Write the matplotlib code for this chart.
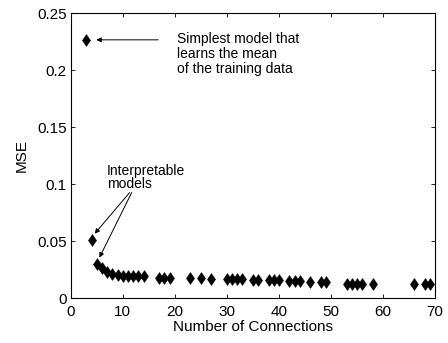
import matplotlib
matplotlib.use('Agg')
import matplotlib.pyplot as plt
from matplotlib.path import Path

plt.rcParams['font.family'] = ['Liberation Sans', 'DejaVu Sans']

# connections vs. test error for each trained model
connections = [3, 4, 5, 6, 7, 8, 9, 10, 11, 12, 13, 14,
               17, 18, 19, 23, 25, 27, 30, 31, 32, 33, 35, 36,
               38, 39, 40, 42, 43, 44, 46, 48, 49,
               53, 54, 55, 56, 58, 66, 68, 69]
mse = [0.226, 0.051, 0.030, 0.026, 0.023, 0.021, 0.020, 0.0195, 0.019, 0.019, 0.019, 0.019,
       0.018, 0.018, 0.018, 0.0175, 0.0175, 0.017, 0.0165, 0.0165, 0.0165, 0.0165, 0.016, 0.016,
       0.016, 0.016, 0.016, 0.015, 0.015, 0.015, 0.0145, 0.014, 0.014,
       0.0125, 0.0125, 0.0125, 0.0125, 0.0125, 0.012, 0.012, 0.012]

xticks = [0, 10, 20, 30, 40, 50, 60, 70]
yticks = [0, 0.05, 0.1, 0.15, 0.2, 0.25]
ytick_labels = ['0', '0.05', '0.1', '0.15', '0.2', '0.25']

# slightly narrow diamond
diamond = Path([(0, 1), (0.68, 0), (0, -1), (-0.68, 0), (0, 1)],
               [Path.MOVETO, Path.LINETO, Path.LINETO, Path.LINETO, Path.CLOSEPOLY])

fig = plt.figure(figsize=(4.48, 3.43), dpi=100)
ax = fig.add_axes([0.158, 0.131, 0.813, 0.831])

ax.plot(connections, mse, linestyle='none', marker=diamond, markersize=8.5,
        color='black', markeredgewidth=0.4)

ax.set_xlim(0, 70)
ax.set_ylim(0, 0.25)
ax.set_xticks(xticks)
ax.set_yticks(yticks)
ax.set_yticklabels(ytick_labels)
ax.tick_params(direction='in', top=True, right=True, labelsize=11, length=3,
               width=0.6, pad=3)
ax.tick_params(axis='x', pad=5)
for s in ax.spines.values():
    s.set_linewidth(0.8)

ax.set_xlabel('Number of Connections', fontsize=11, labelpad=1)
ax.set_ylabel('MSE', fontsize=11, labelpad=6)

arrow = dict(arrowstyle='-|>', color='black', lw=0.7, mutation_scale=7,
             shrinkA=0, shrinkB=0)
ax.annotate('', xy=(4.9, 0.2265), xytext=(16.8, 0.2265), arrowprops=arrow)
ax.text(20.5, 0.2335, 'Simplest model that\nlearns the mean\nof the training data',
        fontsize=10, va='top', ha='left', linespacing=1.08)

ax.text(7.0, 0.1175, 'Interpretable\nmodels', fontsize=10, va='top', ha='left',
        linespacing=0.92)
ax.annotate('', xy=(4.6, 0.0565), xytext=(11.3, 0.0925), arrowprops=arrow)
ax.annotate('', xy=(5.5, 0.0355), xytext=(11.7, 0.0925), arrowprops=arrow)

fig.savefig('out.png', dpi=100)
